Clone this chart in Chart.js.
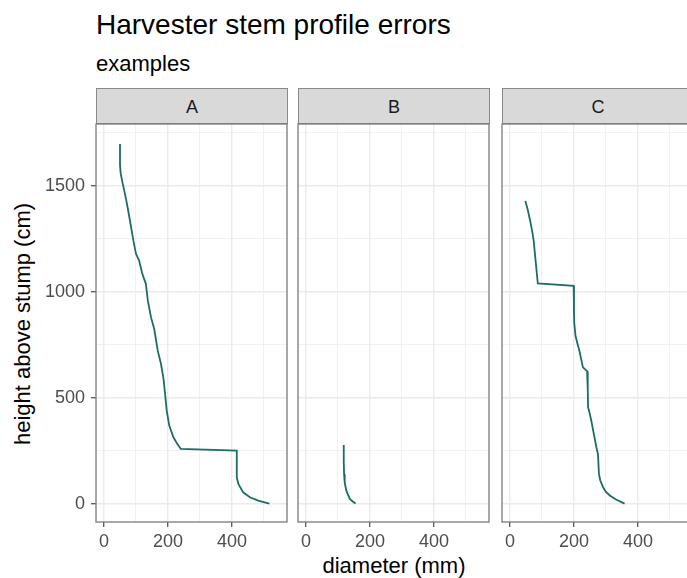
<!DOCTYPE html>
<html><head><meta charset="utf-8">
<script src="https://cdn.jsdelivr.net/npm/chart.js@4.4.1/dist/chart.umd.min.js"></script>
<style>
html,body{margin:0;padding:0;width:687px;height:578px;overflow:hidden;background:#fff;font-family:"Liberation Sans",Arial,sans-serif;}
.abs{position:absolute;white-space:nowrap;line-height:1;}
canvas{position:absolute;}
.strip{position:absolute;top:88px;width:192px;height:36px;background:#d9d9d9;border:1px solid #8a8a8a;box-sizing:border-box;display:flex;align-items:center;justify-content:center;font-size:18px;color:#1a1a1a;padding-top:2px;}
</style></head><body>
<div class="abs" style="left:96px;top:11px;font-size:28px;color:#000">Harvester stem profile errors</div>
<div class="abs" style="left:96px;top:53px;font-size:22px;color:#000">examples</div>
<div class="strip" style="left:96px">A</div>
<div class="strip" style="left:298px">B</div>
<div class="strip" style="left:502px">C</div>
<div class="abs" style="left:394px;top:566px;font-size:22px;color:#000;transform:translate(-50%,-50%)">diameter (mm)</div>
<div class="abs" style="left:23px;top:324px;font-size:22px;color:#000;transform:translate(-50%,-50%) rotate(-90deg)">height above stump (cm)</div>
<canvas id="cA" width="253" height="432" style="left:40px;top:118px"></canvas>
<canvas id="cB" width="203" height="432" style="left:292px;top:118px"></canvas>
<canvas id="cC" width="203" height="432" style="left:496px;top:118px"></canvas>
<script>
// facet names
const panels = ['A', 'B', 'C'];
// diameter (mm) and height above stump (cm)
const diamA  = [50, 50, 52, 58, 63, 70, 76, 84, 92, 100, 110, 119, 122, 131, 137, 147, 157, 168, 178, 186, 191, 196, 204, 217, 229, 240, 415, 415, 420, 435, 456, 482, 517];
const heightA = [1697, 1600, 1560, 1514, 1480, 1429, 1380, 1311, 1240, 1179, 1146, 1090, 1075, 1037, 958, 879, 824, 722, 660, 590, 517, 439, 368, 313, 282, 258, 250, 124, 93, 53, 30, 14, 0];
const diamB  = [118, 118, 119, 121, 126, 137, 146, 155];
const heightB = [277, 200, 140, 100, 61, 22, 10, 0];
const diamC  = [48, 55, 63, 70, 74, 79, 87, 199, 200, 201, 205, 210, 217, 228, 241, 243, 244, 247, 254, 262, 270, 275, 278, 282, 291, 300, 312, 330, 358];
const heightC = [1429, 1390, 1335, 1280, 1241, 1162, 1039, 1028, 900, 848, 790, 760, 720, 643, 625, 540, 454, 439, 392, 329, 266, 234, 140, 110, 77, 55, 38, 20, 0];
// tick values (major labelled, minor grid only)
const xTickValues = [0, 100, 200, 300, 400, 500];
const xMajor = [0, 200, 400];
const yTickValues = [0, 250, 500, 750, 1000, 1250, 1500, 1750];
const yMajor = [0, 500, 1000, 1500];

const FONT = '"Liberation Sans", Arial, sans-serif';
const LINE = '#1c6d62';
const borderPlugin = {
  id: 'pborder',
  afterDraw(chart) {
    const {ctx, chartArea: a} = chart;
    ctx.save();
    ctx.strokeStyle = '#7a7a7a';
    ctx.lineWidth = 1.3;
    ctx.strokeRect(a.left, a.top, a.right - a.left, a.bottom - a.top);
    ctx.restore();
  }
};

function makePanel(id, xs, ys, showY) {
  const isMajX = v => xMajor.includes(v);
  const isMajY = v => yMajor.includes(v);
  new Chart(document.getElementById(id), {
    type: 'scatter',
    data: { datasets: [{
      data: xs.map((x, i) => ({x: x, y: ys[i]})),
      showLine: true, borderColor: LINE, borderWidth: 1.8, pointRadius: 0, tension: 0
    }]},
    options: {
      responsive: false, animation: false, devicePixelRatio: 1,
      layout: { padding: { top: 6, right: 6, bottom: 0, left: showY ? 0 : 6 } },
      plugins: { legend: {display: false}, tooltip: {enabled: false} },
      scales: {
        x: {
          type: 'linear', min: -25, max: 572,
          afterBuildTicks: s => { s.ticks = xTickValues.map(v => ({value: v})); },
          afterFit: s => { s.height = 28; s.paddingLeft = 0; s.paddingRight = 0; },
          border: {display: false},
          grid: {
            color: '#ebebeb',
            lineWidth: c => isMajX(c.tick.value) ? 1.4 : 0.7,
            tickColor: c => isMajX(c.tick.value) ? '#555' : 'rgba(0,0,0,0)',
            tickWidth: 1.3, tickLength: 5, drawTicks: true
          },
          ticks: {
            callback: v => isMajX(v) ? String(v) : '',
            color: '#4d4d4d', font: {family: FONT, size: 18}, padding: 4,
            autoSkip: false, maxRotation: 0
          }
        },
        y: {
          type: 'linear', min: -87, max: 1792,
          afterBuildTicks: s => { s.ticks = yTickValues.map(v => ({value: v})); },
          afterFit: s => { s.width = showY ? 56 : 0; s.paddingTop = 0; s.paddingBottom = 0; },
          border: {display: false},
          grid: {
            color: '#ebebeb',
            lineWidth: c => isMajY(c.tick.value) ? 1.4 : 0.7,
            tickColor: c => isMajY(c.tick.value) ? '#555' : 'rgba(0,0,0,0)',
            tickWidth: 1.3, tickLength: 5, drawTicks: showY
          },
          ticks: {
            display: showY,
            callback: v => isMajY(v) ? String(v) : '',
            color: '#4d4d4d', font: {family: FONT, size: 18}, padding: 6,
            autoSkip: false
          }
        }
      }
    },
    plugins: [borderPlugin]
  });
}
makePanel('cA', diamA, heightA, true);
makePanel('cB', diamB, heightB, false);
makePanel('cC', diamC, heightC, false);
</script>
</body></html>
